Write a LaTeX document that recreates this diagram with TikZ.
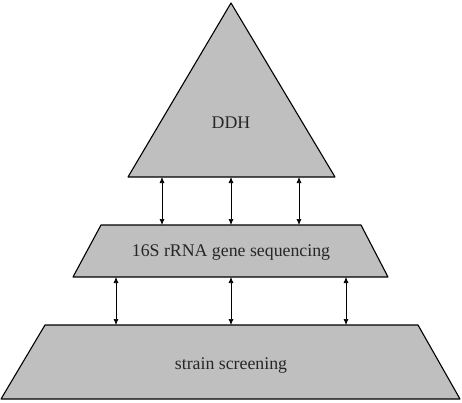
\documentclass[tikz,border=0pt]{standalone}
\usepackage{fontspec}
\setmainfont{Liberation Serif}
\usetikzlibrary{arrows.meta}
\tikzset{layer/.style={draw=black, fill=gray!50, line width=1.1pt, line join=round}, link/.style={{Latex[length=6pt,width=5pt]}-{Latex[length=6pt,width=5pt]}, line width=0.7pt}, every node/.style={font=\fontsize{17.8}{20}\selectfont, text=black!85}}

\begin{document}
\begin{tikzpicture}[x=1pt, y=-1pt]
  \useasboundingbox (0,0) rectangle (462,402);
  % the three levels
  \draw[layer] (231,3) -- (335,177) -- (128,177) -- cycle;
  \draw[layer] (101,225) -- (361,225) -- (388,277) -- (73,277) -- cycle;
  \draw[layer] (45,325) -- (418,325) -- (460,399) -- (1,399) -- cycle;
  \node (ddh) at (231,123) {DDH};
  \node (seq) at (231,253) {16S rRNA gene sequencing};
  \node (scr) at (231,366) {strain screening};
  % ends of the links
  \coordinate (t1) at (162,177);
  \coordinate (t2) at (231,177);
  \coordinate (t3) at (299,177);
  \coordinate (m1) at (162,225);
  \coordinate (m2) at (231,225);
  \coordinate (m3) at (299,225);
  \coordinate (n1) at (116,277);
  \coordinate (n2) at (231,277);
  \coordinate (n3) at (346,277);
  \coordinate (b1) at (116,325);
  \coordinate (b2) at (231,325);
  \coordinate (b3) at (346,325);
  \foreach \i in {1,2,3} {
    \draw[link] (t\i) -- (m\i);
    \draw[link] (n\i) -- (b\i);
  }
\end{tikzpicture}
\end{document}
